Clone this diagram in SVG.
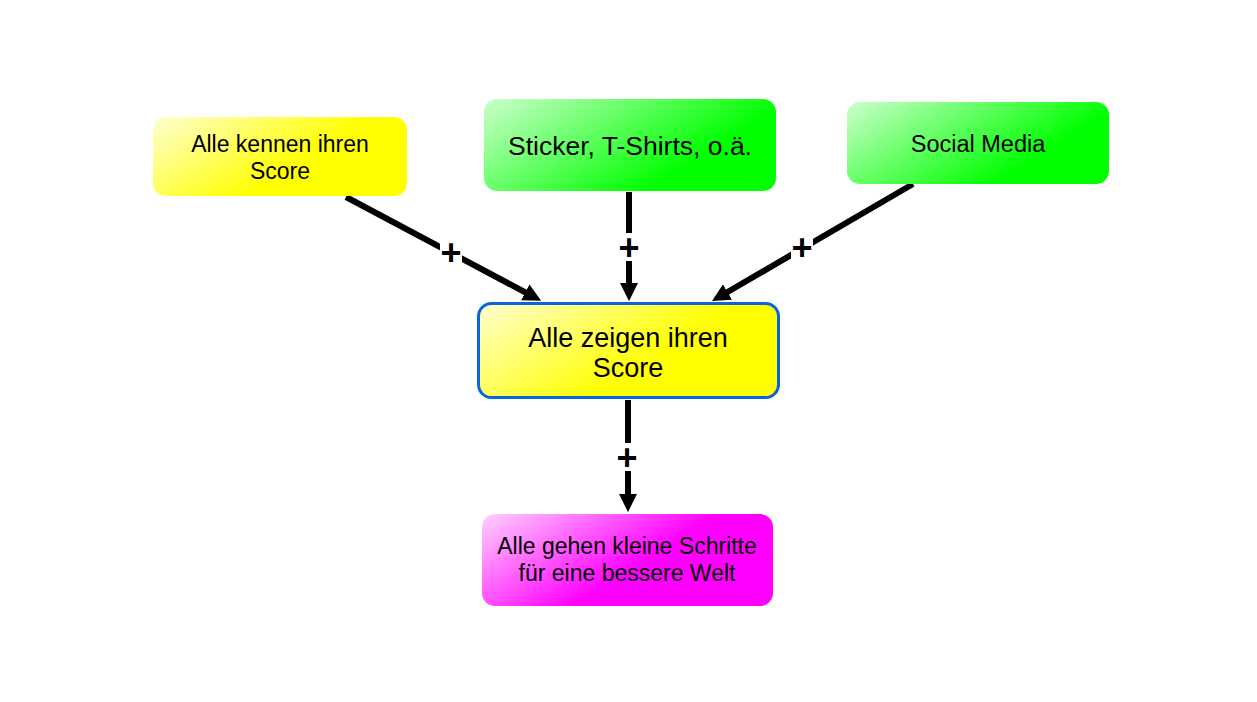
<svg xmlns="http://www.w3.org/2000/svg" width="1257" height="702" viewBox="0 0 1257 702">
<defs>
<linearGradient id="gY" x1="0" y1="0" x2="1" y2="0.5">
<stop offset="0" stop-color="#ffffd2"/><stop offset="0.7" stop-color="#ffff00"/></linearGradient>
<linearGradient id="gG" x1="0" y1="0" x2="1" y2="0.5">
<stop offset="0" stop-color="#ccffcc"/><stop offset="0.85" stop-color="#00ff00"/></linearGradient>
<linearGradient id="gM" x1="0" y1="0" x2="1" y2="0.5">
<stop offset="0" stop-color="#ffd2ff"/><stop offset="0.65" stop-color="#ff00ff"/></linearGradient>
<marker id="arr" viewBox="0 0 10 10" refX="5.5" refY="5" markerWidth="3" markerHeight="3" orient="auto" markerUnits="strokeWidth">
<path d="M0,0 L10,5 L0,10 z" fill="#000"/></marker>
<style>
.t{font-family:"Liberation Sans",Arial,sans-serif;fill:#000;text-anchor:middle}
.e{stroke:#000;stroke-width:6;fill:none;marker-end:url(#arr)}
.lb{font-family:"Liberation Sans",Arial,sans-serif;font-weight:bold;font-size:36px;text-anchor:middle;fill:#000}
.bg{fill:#fff}
</style>
</defs>
<rect width="1257" height="702" fill="#fff"/>
<g id="connectors">
<line class="e" x1="346" y1="197" x2="534" y2="297"/>
<line class="e" x1="629" y1="192" x2="629" y2="293"/>
<line class="e" x1="913" y1="184" x2="719" y2="297"/>
<line class="e" x1="628" y1="400" x2="628" y2="504"/>
<rect class="bg" x="440" y="238" width="22" height="28"/>
<rect class="bg" x="618" y="233" width="22" height="28"/>
<rect class="bg" x="791" y="233" width="22" height="28"/>
<rect class="bg" x="616" y="443" width="22" height="28"/>
<text class="lb" x="451" y="265">+</text>
<text class="lb" x="629" y="260">+</text>
<text class="lb" x="802" y="260">+</text>
<text class="lb" x="627" y="470">+</text>
</g>
<g id="n1">
<rect x="153" y="117" width="254" height="79" rx="13" fill="url(#gY)"/>
<text class="t" x="280" y="152" font-size="23">Alle kennen ihren</text>
<text class="t" x="280" y="179" font-size="23">Score</text>
</g>
<g id="n2">
<rect x="484" y="99" width="292" height="92" rx="13" fill="url(#gG)"/>
<text class="t" x="630" y="155" font-size="26.5">Sticker, T-Shirts, o.ä.</text>
</g>
<g id="n3">
<rect x="847" y="102" width="262" height="82" rx="13" fill="url(#gG)"/>
<text class="t" x="978" y="152" font-size="23.5">Social Media</text>
</g>
<g id="n4">
<rect x="478.5" y="303.5" width="300" height="94" rx="13" fill="url(#gY)" stroke="#0a64dc" stroke-width="3"/>
<text class="t" x="628" y="347" font-size="27">Alle zeigen ihren</text>
<text class="t" x="628" y="377" font-size="27">Score</text>
</g>
<g id="n5">
<rect x="482" y="514" width="291" height="92" rx="13" fill="url(#gM)"/>
<text class="t" x="627" y="554" font-size="23">Alle gehen kleine Schritte</text>
<text class="t" x="627" y="581" font-size="23">für eine bessere Welt</text>
</g>
</svg>
